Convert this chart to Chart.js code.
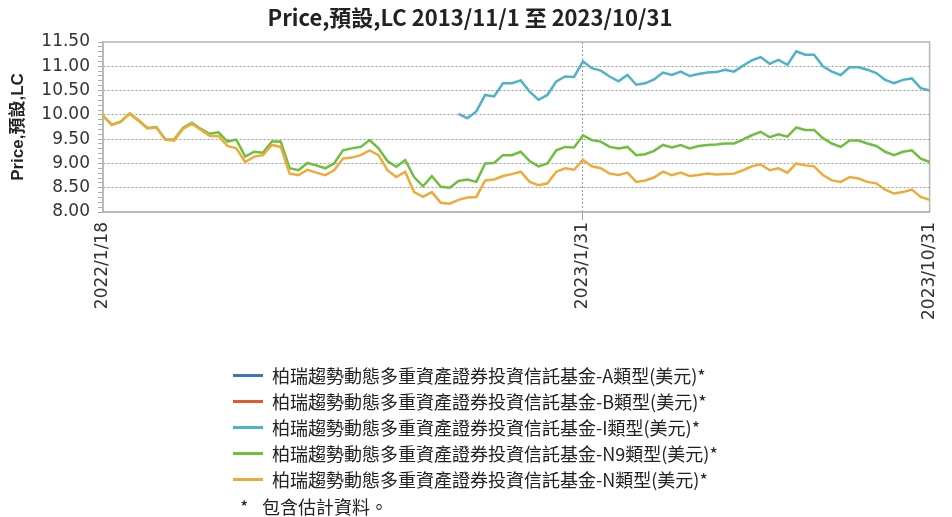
<!DOCTYPE html>
<html><head><meta charset="utf-8">
<script src="https://cdn.jsdelivr.net/npm/chart.js@4/dist/chart.umd.min.js"></script>
<style>
html,body{margin:0;padding:0;background:#fff;}
#wrap{position:relative;width:952px;height:517px;overflow:hidden;}
#c{position:absolute;left:0;top:0;}
#legend{position:absolute;left:233px;top:362px;font-family:"Noto Sans CJK TC","Noto Sans CJK SC",sans-serif;font-size:18px;color:#222;}
.item{height:26px;display:flex;align-items:center;white-space:nowrap;}
.sw{width:30px;height:3px;margin-right:9px;flex:none;}
#note{position:absolute;left:240px;top:494px;font-family:"Noto Sans CJK TC","Noto Sans CJK SC",sans-serif;font-size:18px;color:#222;line-height:24px;white-space:nowrap;}
#note .star{display:inline-block;width:22px;}
</style></head>
<body>
<div id="wrap">
<canvas id="c" width="952" height="517"></canvas>
<div id="legend"></div>
<div id="note"><span class="star">*</span>包含估計資料。</div>
</div>
<script>
// weekly observation dates start / end (category axis)
const startDate = '2022/1/18';
const weekCount = 94;
const tickLabels = ['2022/1/18', '2023/1/31', '2023/10/31'];
const gridDates = ['2023/1/31'];

const seriesNames = [
  '柏瑞趨勢動態多重資產證券投資信託基金-A類型(美元)*',
  '柏瑞趨勢動態多重資產證券投資信託基金-B類型(美元)*',
  '柏瑞趨勢動態多重資產證券投資信託基金-I類型(美元)*',
  '柏瑞趨勢動態多重資產證券投資信託基金-N9類型(美元)*',
  '柏瑞趨勢動態多重資產證券投資信託基金-N類型(美元)*'
];
const seriesColors = ['#3f74c4', '#e2572c', '#4fb2c9', '#6fbf3e', '#f0aa3c'];

const valuesA = [];
const valuesB = [];
const valuesI = [
  null,null,null,null,null,null,null,null,null,null,
  null,null,null,null,null,null,null,null,null,null,
  null,null,null,null,null,null,null,null,null,null,
  null,null,null,null,null,null,null,null,null,null,
  10.02,9.93,10.07,10.41,10.38,10.65,10.65,10.71,10.48,10.31,
  10.41,10.69,10.79,10.78,11.10,10.96,10.91,10.79,10.69,10.82,
  10.62,10.65,10.73,10.87,10.82,10.89,10.80,10.84,10.87,10.88,
  10.93,10.89,11.01,11.12,11.19,11.05,11.13,11.03,11.31,11.24,
  11.24,11.00,10.89,10.82,10.98,10.98,10.93,10.86,10.72,10.65,
  10.72,10.75,10.55,10.50
];
const valuesN9 = [
  9.98,9.80,9.86,10.03,9.89,9.73,9.75,9.50,9.49,9.73,
  9.84,9.71,9.61,9.64,9.45,9.49,9.14,9.24,9.22,9.45,
  9.45,8.90,8.86,9.01,8.96,8.90,9.00,9.27,9.31,9.34,
  9.48,9.31,9.05,8.93,9.07,8.72,8.53,8.74,8.52,8.50,
  8.64,8.67,8.62,9.00,9.01,9.17,9.17,9.24,9.05,8.94,
  9.00,9.27,9.34,9.33,9.58,9.48,9.45,9.34,9.31,9.34,
  9.17,9.19,9.26,9.38,9.33,9.38,9.31,9.36,9.38,9.39,
  9.41,9.41,9.49,9.58,9.65,9.54,9.60,9.55,9.74,9.69,
  9.69,9.52,9.41,9.34,9.47,9.47,9.41,9.36,9.24,9.17,
  9.24,9.27,9.10,9.03
];
const valuesN = [
  9.98,9.79,9.86,10.02,9.88,9.72,9.74,9.49,9.47,9.71,
  9.82,9.69,9.57,9.56,9.36,9.31,9.03,9.14,9.17,9.38,
  9.34,8.79,8.76,8.87,8.81,8.76,8.86,9.10,9.12,9.17,
  9.27,9.17,8.86,8.72,8.83,8.41,8.31,8.41,8.19,8.17,
  8.25,8.30,8.31,8.65,8.67,8.74,8.78,8.83,8.62,8.55,
  8.59,8.83,8.90,8.87,9.07,8.94,8.90,8.79,8.76,8.81,
  8.62,8.65,8.71,8.83,8.76,8.81,8.74,8.76,8.79,8.77,
  8.78,8.79,8.86,8.94,8.98,8.86,8.90,8.81,9.00,8.96,
  8.94,8.76,8.65,8.62,8.72,8.69,8.62,8.59,8.46,8.38,
  8.41,8.46,8.31,8.25
];

// build weekly category labels
const dates = [];
{
  const p = startDate.split('/').map(Number);
  const d0 = new Date(p[0], p[1]-1, p[2]);
  for (let i = 0; i < weekCount; i++) {
    const d = new Date(d0.getFullYear(), d0.getMonth(), d0.getDate() + 7*i);
    dates.push(d.getFullYear() + '/' + (d.getMonth()+1) + '/' + d.getDate());
  }
}

const allValues = [valuesA, valuesB, valuesI, valuesN9, valuesN];
const orders = [4, 4, 3, 2, 1];
const datasets = seriesNames.map((n, k) => ({
  label: n, data: allValues[k], borderColor: seriesColors[k], backgroundColor: seriesColors[k],
  borderWidth: 2.5, pointRadius: 0, tension: 0, spanGaps: false, order: orders[k]
}));

// legend (HTML)
const lg = document.getElementById('legend');
seriesNames.forEach((n, k) => {
  const it = document.createElement('div'); it.className = 'item';
  const sw = document.createElement('span'); sw.className = 'sw'; sw.style.background = seriesColors[k];
  const tx = document.createElement('span'); tx.textContent = n;
  it.appendChild(sw); it.appendChild(tx); lg.appendChild(it);
});

const isMajor = v => Math.abs(v*2 - Math.round(v*2)) < 1e-6;

const framePlugin = {
  id: 'frame',
  beforeDatasetsDraw(chart) {
    const a = chart.chartArea, ctx = chart.ctx;
    ctx.save(); ctx.strokeStyle = '#b4b4b4'; ctx.lineWidth = 1.5;
    ctx.strokeRect(a.left, a.top, a.right - a.left, a.bottom - a.top);
    ctx.restore();
  }
};

new Chart(document.getElementById('c'), {
  type: 'line',
  data: { labels: dates, datasets },
  plugins: [framePlugin],
  options: {
    responsive: false, animation: false,
    layout: { padding: { left: 0, right: 12, top: 0, bottom: 185 } },
    plugins: {
      legend: { display: false }, tooltip: { enabled: false },
      title: { display: true, text: 'Price,預設,LC 2013/11/1 至 2023/10/31', color: '#222',
        font: { family: '"Liberation Sans Narrow","Noto Sans CJK TC"', size: 22, weight: 'bold' },
        padding: { top: 4, bottom: 11.6 } }
    },
    scales: {
      x: {
        afterFit: s => { s.height = 120; },
        ticks: { autoSkip: false, minRotation: 90, maxRotation: 90, padding: 2, color: '#333',
          font: { family: 'DejaVu Sans', size: 17 },
          callback: (v, i) => tickLabels.includes(dates[i]) ? dates[i] : '' },
        grid: { lineWidth: 1, tickLength: 8,
          color: c => gridDates.includes(dates[c.index]) ? '#999' : 'rgba(0,0,0,0)',
          tickColor: c => gridDates.includes(dates[c.index]) ? '#999' : 'rgba(0,0,0,0)' },
        border: { color: '#b4b4b4', width: 1.5, dash: [2, 2] }
      },
      y: {
        min: 8, max: 11.5,
        afterFit: s => { s.width = 103; },
        title: { display: true, text: 'Price,預設,LC', color: '#222',
          font: { family: '"Liberation Sans","Noto Sans CJK TC"', size: 17, weight: 'bold' },
          padding: { top: 8, bottom: 0 } },
        ticks: { stepSize: 0.1, autoSkip: false, padding: 8, color: '#333',
          font: { family: 'DejaVu Sans', size: 17 },
          callback: v => isMajor(v) ? Number(v).toFixed(2) : '' },
        grid: { lineWidth: 1, tickLength: 5, tickColor: '#aaa',
          color: c => (c.tick && isMajor(c.tick.value) && c.tick.value > 8.01 && c.tick.value < 11.49) ? '#9a9a9a' : 'rgba(0,0,0,0)' },
        border: { color: '#b4b4b4', width: 1.5, dash: [2, 2] }
      }
    }
  }
});
</script>
</body></html>
